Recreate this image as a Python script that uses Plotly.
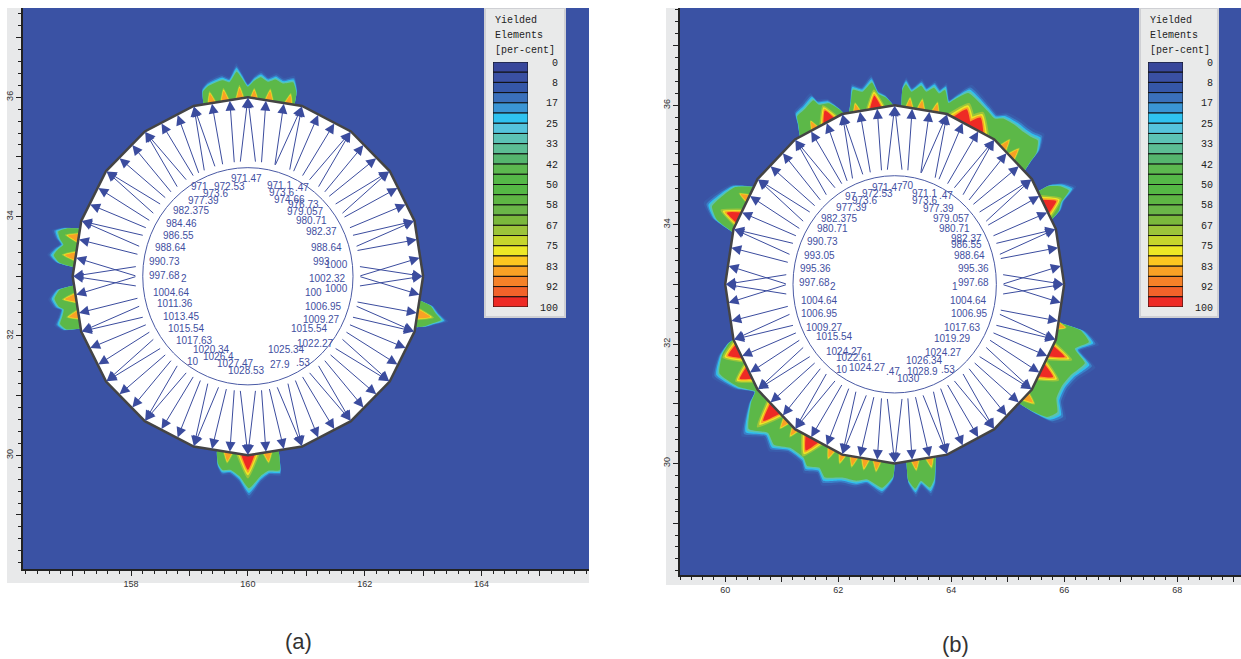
import math
import plotly.graph_objects as go

W, H = 1241, 659

LEGEND_LABELS = ["0","8","17","25","33","42","50","58","67","75","83","92","100"]
LEGEND_COLORS = ["#38479b","#3a50a3","#3557a8","#3a70bb","#3a95d5","#2fc2f0","#55c3dc","#5cc2b5",
                 "#5cbd94","#55b56e","#5cb84f","#55b848","#55b845","#5eb544","#6ab548","#7ab83c",
                 "#9cc43a","#c6d62c","#eee825","#fdc720","#f9a125","#f58128","#f2622a","#ee2a25"]
LEGEND_TITLE = ["Yielded", "Elements", "[per-cent]"]

OUTLINE_DEG = [0,18,36,54,72,90,108,126,144,162,180,198,216,234,252,270,288,306,324,342,360]
ARROW_HEAD_DEG = [0,0,6,-6,12,18,18,24,30,36,36,42,48,54,54,60,66,72,72,78,84,90,90,96,102,108,108,
                  114,120,126,126,132,138,144,144,150,156,162,162,168,174,180,180,186,192,198,198,
                  204,210,216,216,222,228,234,234,240,246,252,252,258,264,270,270,276,282,288,288,
                  294,300,306,306,312,318,324,324,330,336,342,342,348]
ARROW_TAIL_DEG = [-5,5,0,0,13,15,21,25,31,33,39,44,47,51,57,61,66,68,76,76,83,86,94,97,103,107,113,
                  116,119,123,129,133,137,141,147,151,155,159,165,169,180,175,185,180,191,195,201,
                  205,209,213,219,223,227,231,237,241,245,249,255,259,263,266,274,277,281,285,291,
                  295,299,303,309,313,317,321,327,331,335,339,345,347]

# (direction in degrees, reach beyond the lining) for each yielded zone
A_TOP = [(104.7,0),(104,.2),(102,.28),(97.6,.34),(95.5,.29),(93.2,.47),(91.7,.34),(90,.19),(88.1,.3),
         (86.2,.37),(84,.3),(81.8,.36),(79.5,.31),(76.6,.37),(74.9,.2),(74.5,0)]
A_LEFT1 = [(164.5,0),(165.5,.22),(167,.36),(169,.3),(170.5,.22),(172,.3),(174,.37),(176,.25),(177,0)]
A_LEFT2 = [(183,0),(184,.25),(186.5,.36),(189,.3),(190,.22),(192,.27),(194,.34),(196,.25),(197,0)]
A_RIGHT = [(-8,0),(-9,.18),(-11,.3),(-12.5,.42),(-14,.28),(-15.5,.15),(-16.5,0)]
A_BOTTOM = [(259.8,0),(260.8,.2),(262.4,.3),(264.8,.28),(267.5,.38),(270.3,.6),(273.8,.38),(276.3,.3),
            (279.5,.32),(280.2,0)]
A_HOT = [(102,1.6,.13,0),(97.6,1.6,.14,0),(92.6,1.6,.16,0),(88,1.6,.12,0),(83,1.6,.13,0),(76.5,1.6,.12,0),
         (167.5,1.8,.16,0),(173.5,1.8,.16,0),(187,1.8,.16,0),(192.5,1.8,.14,0),(-12.3,2,.2,0),
         (270,3.6,.3,1),(263.5,1.8,.12,0),(276.5,1.8,.12,0)]

B_Z1 = [(124,0),(122.5,.18),(121.5,.33),(118.5,.37),(115,.44),(114,.32),(111,.27),(108.5,.1),(107.5,0)]
B_Z2 = [(105.5,0),(104.3,.15),(102.8,.37),(100,.3),(96.8,.44),(95.2,.22),(93,.15),(90.5,0)]
B_Z3 = [(87.7,0),(87.6,.28),(86.6,.39),(84.7,.26),(82,.39),(80.2,.3),(78.1,.4),(76.2,.32),(74.7,.41),
        (72.6,.2),(71.2,.29),(67.9,.5),(60.7,.37),(57.5,.32),(55.3,.41),(51.1,.45),(48.3,.46),(45.8,.49),
        (43.6,.54),(41.3,.37),(40.5,.16),(39.7,0)]
B_Z4 = [(31.5,0),(31.2,.19),(29.3,.39),(27,.5),(25,.27),(23,.17),(21.5,0)]
B_Z5 = [(147,0),(150,.28),(153.4,.4),(158,.53),(161,.36),(163,0)]
B_Z6 = [(-12.5,0),(-13.2,.41),(-15.7,.62),(-18.7,.4),(-21.4,.67),(-26,.51),(-30,.45),(-33.7,.48),
        (-36.7,.64),(-39.5,.54),(-41,.27),(-42,0)]
B_Z7 = [(198,0),(198.5,.1),(201,.29),(205.7,.48),(212,.27),(216,.06),(217.8,.23),(223.2,.59),(228,.38),
        (231.5,.47),(236,.33),(241,.35),(243,.45),(246.6,.38),(249,.5),(254,.4),(258.4,.39),(261.6,.33),
        (266.3,.45),(269.5,.24),(270,0)]
B_Z8 = [(274,0),(274.2,.31),(276.1,.48),(278,.35),(280.4,.5),(282.1,.37),(283.5,.1),(284,0)]
B_HOT = [(113,3.5,.2,1),(118.5,1.6,.1,0),(96.5,3.2,.22,1),(103,1.6,.1,0),(85,1.6,.12,0),(81,1.6,.12,0),
         (76,1.6,.12,0),(66.5,5.5,.24,1),(61.5,5.5,.22,1),(50,1.7,.14,0),(46,1.7,.14,0),(26,4,.22,1),
         (158,3,.25,1),(151,1.6,.12,0),(-22,3,.3,1),(-29,3.5,.25,1),(-39,2,.15,0),(-13.5,1.6,.1,0),
         (202,4,.22,1),(210,3.5,.2,1),(224.5,3.5,.32,1),(240.5,4,.24,1),(230,1.7,.13,0),(234,1.7,.13,0),
         (248,1.7,.13,0),(252,1.7,.13,0),(256,1.7,.13,0),(260,1.7,.13,0),(264,1.7,.13,0),(277,1.7,.12,0),
         (282,1.7,.12,0)]

A_LABEL_TEXT = ["971.47","971","972.53","973.6","971.1",".47","973.6","974.66","977.39","982.375","976.73",
                "979.057","980.71","982.37","984.46","986.55","988.64","988.64","990.73","993","1000",
                "997.68","2","1002.32","1004.64","100","1000","1011.36","1006.95","1013.45","1009.27",
                "1015.54","1015.54","1017.63","1020.34","1022.27","1025.34","1026.4","1027.47","10",
                "1028.53","27.9",".53"]
A_LABEL_X = [159.97,159.17,159.68,159.45,160.54,160.92,160.58,160.72,159.24,159.04,160.95,160.98,161.09,
             161.26,158.86,158.81,158.68,161.35,158.58,161.26,161.52,158.58,158.91,161.36,158.69,161.12,
             161.52,158.75,161.30,158.86,161.26,158.95,161.06,159.09,159.38,161.15,160.66,159.49,159.78,
             159.06,159.98,160.55,160.95]
A_LABEL_Y = [34.63,34.50,34.50,34.39,34.52,34.49,34.40,34.29,34.27,34.10,34.20,34.08,33.93,33.75,33.89,
             33.68,33.48,33.48,33.25,33.25,33.19,33.02,32.97,32.97,32.73,32.72,32.79,32.55,32.50,32.33,
             32.27,32.13,32.13,31.92,31.77,31.87,31.77,31.66,31.54,31.58,31.42,31.52,31.56]

B_LABEL_TEXT = ["971.47","70","971.1",".47","97","972.53","973.6","977.39","973.6","977.39","982.375",
                "979.057","980.71","980.71","982.37","986.55","990.73","993.05","988.64","995.36","995.36",
                "997.68","997.68","2","1","1004.64","1004.64","1006.95","1006.95","1009.27","1017.63",
                "1015.54","1019.29","1024.27","1022.61","1024.27","1024.27","10",".47","1030","1028.9",
                ".53","1026.34"]
B_LABEL_X = [62.88,63.24,63.53,63.91,62.23,62.70,62.47,62.23,63.53,63.77,62.03,64.0,61.90,64.06,64.27,64.27,
             61.72,61.67,64.33,61.60,64.39,61.58,64.40,61.91,64.07,61.67,64.30,61.67,64.33,61.76,64.20,
             61.94,64.02,62.11,62.29,63.87,62.51,62.07,62.97,63.24,63.50,63.94,63.53]
B_LABEL_Y = [34.62,34.655,34.53,34.49,34.48,34.52,34.40,34.28,34.40,34.27,34.10,34.10,33.93,33.93,33.77,
             33.66,33.72,33.48,33.48,33.26,33.26,33.03,33.03,32.96,32.96,32.73,32.73,32.51,32.51,32.27,
             32.27,32.13,32.10,31.87,31.77,31.86,31.60,31.57,31.54,31.43,31.54,31.57,31.73]

BLUE = "#3a52a4"
INK = "#3b4c9e"
ZONE_LAYERS = [(1.22,"#3a5cab"),(1.12,"#3a80c8"),(1.05,"#30c0ee"),(.99,"#5cc2b0"),(.92,"#5cb848")]
HOT_LAYERS = [(1.3,"#9cc43a",0),(1.12,"#eee825",0),(.98,"#f9a125",0),(.82,"#ee2a25",1)]


def pol(cx, cy, deg, r):
    return cx + r * math.cos(math.radians(deg)), cy + r * math.sin(math.radians(deg))


def lining_r(deg):
    return 3 * math.cos(math.radians(9)) / math.cos(math.radians((deg % 18) - 9))


def filled(xs, ys, color, xa, ya):
    return go.Scatter(x=xs, y=ys, mode="lines", fill="toself", fillcolor=color,
                      line=dict(width=0, shape="spline", smoothing=.5),
                      hoverinfo="skip", showlegend=False, xaxis=xa, yaxis=ya)


fig = go.Figure()
shapes, notes = [], []


def panel(cx, cy, zones, hot, texts, tx, ty, xa, ya, lax, lay):
    for f, col in ZONE_LAYERS:
        xs, ys = [], []
        for z in zones:
            pts = [pol(cx, cy, a, 3 + d * f) for a, d in z]
            pts = [pol(cx, cy, z[0][0], 2.9)] + pts + [pol(cx, cy, z[-1][0], 2.9)]
            xs += [p[0] for p in pts] + [None]
            ys += [p[1] for p in pts] + [None]
        fig.add_trace(filled(xs, ys, col, xa, ya))
    for f, col, need in HOT_LAYERS:
        xs, ys = [], []
        for a, hw, h, peak in hot:
            if need and not peak:
                continue
            pts = [pol(cx, cy, a - hw * f, 2.9), pol(cx, cy, a, 3 + h * f), pol(cx, cy, a + hw * f, 2.9)]
            xs += [p[0] for p in pts] + [None]
            ys += [p[1] for p in pts] + [None]
        fig.add_trace(filled(xs, ys, col, xa, ya))
    pts = [pol(cx, cy, a, 3) for a in OUTLINE_DEG]
    fig.add_trace(go.Scatter(x=[p[0] for p in pts], y=[p[1] for p in pts], mode="lines", fill="toself",
                             fillcolor="white", line=dict(color="#444444", width=2.5), hoverinfo="skip",
                             showlegend=False, xaxis=xa, yaxis=ya))
    for h, t in zip(ARROW_HEAD_DEG, ARROW_TAIL_DEG):
        hx, hy = pol(cx, cy, h, lining_r(h) - .01)
        ax_, ay_ = pol(cx, cy, t, 1.9)
        notes.append(dict(x=hx, y=hy, ax=ax_, ay=ay_, xref=xa, yref=ya, axref=xa, ayref=ya, text="",
                          showarrow=True, arrowhead=2, arrowsize=2, arrowwidth=1, arrowcolor=INK,
                          standoff=0, startstandoff=0))
    for s, x, y in zip(texts, tx, ty):
        notes.append(dict(x=x, y=y, xref=xa, yref=ya, text=s, showarrow=False,
                          font=dict(family="Liberation Sans", size=10, color="#3f4f9f")))
    shapes.append(dict(type="circle", xref=xa, yref=ya, x0=cx - 1.8, x1=cx + 1.8, y0=cy - 1.82, y1=cy + 1.82,
                       line=dict(color="#4a5aa5", width=1), layer="above"))
    fig.add_trace(go.Bar(x=[0] * len(LEGEND_COLORS), y=[1] * len(LEGEND_COLORS),
                         base=list(range(len(LEGEND_COLORS))), width=1,
                         marker=dict(color=LEGEND_COLORS, line=dict(color="#111111", width=1)),
                         hoverinfo="skip", showlegend=False, xaxis=lax, yaxis=lay))


panel(160, 33, [A_TOP, A_LEFT1, A_LEFT2, A_RIGHT, A_BOTTOM], A_HOT, A_LABEL_TEXT, A_LABEL_X, A_LABEL_Y,
      "x", "y", "x3", "y3")
panel(63, 33, [B_Z1, B_Z2, B_Z3, B_Z4, B_Z5, B_Z6, B_Z7, B_Z8], B_HOT, B_LABEL_TEXT, B_LABEL_X, B_LABEL_Y,
      "x2", "y2", "x4", "y4")

AXC = "#222222"
TF = dict(family="Liberation Sans", size=9, color="#333333")


def x_axis(rng, ticks, dom, anchor):
    return dict(domain=dom, range=rng, anchor=anchor, tickvals=ticks,
                ticktext=[str(t) if t % 2 == 0 else "" for t in ticks], ticks="outside", ticklen=5, tickfont=TF,
                tickcolor=AXC, showline=True, linecolor=AXC, linewidth=1.5, showgrid=False, zeroline=False,
                minor=dict(dtick=.2, ticks="outside", ticklen=3, tickcolor=AXC))


def y_axis(rng, ticks, dom, anchor):
    d = x_axis(rng, ticks, dom, anchor)
    d["tickangle"] = -90
    return d


def dom_x(a, b):
    return [a / W, b / W]


def dom_y(top, bottom):
    return [(H - bottom) / H, (H - top) / H]


LX = [493, 1148]
LR = [528, 1183]
LABEL_END = [558, 1213]
AY_RANGE = [28.095, 37.495]
BY_RANGE = [28.13, 37.63]
layout = dict(width=W, height=H, margin=dict(l=0, r=0, t=0, b=0, autoexpand=False), paper_bgcolor="white",
              plot_bgcolor=BLUE, barmode="overlay", showlegend=False,
              xaxis=x_axis([156.15, 165.84], [157,158,159,160,161,162,163,164,165], dom_x(23, 589), "y"),
              yaxis=y_axis(AY_RANGE, [29,30,31,32,33,34,35,36,37], dom_y(8, 569), "x"),
              xaxis2=x_axis([59.2, 69.13], [60,61,62,63,64,65,66,67,68,69], dom_x(680, 1241), "y2"),
              yaxis2=y_axis(BY_RANGE, [29,30,31,32,33,34,35,36,37], dom_y(8, 575), "x2"))
for i, (xn, yn) in enumerate([("xaxis3", "yaxis3"), ("xaxis4", "yaxis4")]):
    layout[xn] = dict(domain=dom_x(LX[i], LR[i]), range=[-.5, .5], visible=False, anchor=yn.replace("axis", ""))
    layout[yn] = dict(domain=dom_y(62, 307), range=[24, 0], anchor="free", position=LABEL_END[i] / W, side="left",
                      tickvals=list(range(0, 25, 2)), ticktext=LEGEND_LABELS, ticks="", showline=False,
                      showgrid=False, zeroline=False,
                      tickfont=dict(family="Liberation Mono", size=10, color="#222222"))
    for j, s in enumerate(LEGEND_TITLE):
        notes.append(dict(x=LX[i] / W, y=(H - 21 - j * 14.6) / H, xref="paper", yref="paper", text=s,
                          showarrow=False, xanchor="left", yanchor="middle",
                          font=dict(family="Liberation Mono", size=10, color="#222222")))

# grey frames behind the axes, blue plot fields, legend boxes
for x0, x1, y1 in [(7, 589, 583), (666, 1241, 585)]:
    shapes.append(dict(type="rect", xref="paper", yref="paper", x0=x0 / W, x1=x1 / W, y0=(H - y1) / H, y1=(H - 8) / H,
                       fillcolor="#e8e9ea", line=dict(width=0), layer="below"))
for x0, x1, y1 in [(23, 589, 569), (680, 1241, 575)]:
    shapes.append(dict(type="rect", xref="paper", yref="paper", x0=x0 / W, x1=x1 / W, y0=(H - y1) / H, y1=(H - 8) / H,
                       fillcolor=BLUE, line=dict(width=0), layer="below"))
# legend boxes, placed from pixel positions through each panel's own scale
a_px = lambda px: 156.15 + (px - 23) * (165.84 - 156.15) / 566
a_py = lambda py: AY_RANGE[1] - (py - 8) * (AY_RANGE[1] - AY_RANGE[0]) / 561
b_px = lambda px: 59.2 + (px - 680) * (69.13 - 59.2) / 561
b_py = lambda py: BY_RANGE[1] - (py - 8) * (BY_RANGE[1] - BY_RANGE[0]) / 567
shapes.append(dict(type="rect", xref="x", yref="y", x0=a_px(485), x1=a_px(565), y0=a_py(317), y1=a_py(8),
                   fillcolor="#e9eaea", line=dict(color="#cfd0d4", width=2), layer="between"))
shapes.append(dict(type="rect", xref="x2", yref="y2", x0=b_px(1140), x1=b_px(1218), y0=b_py(317), y1=b_py(8),
                   fillcolor="#e9eaea", line=dict(color="#cfd0d4", width=2), layer="between"))

for s, px, py in [("(a)", 298, 641), ("(b)", 955, 644)]:
    notes.append(dict(x=px / W, y=(H - py) / H, xref="paper", yref="paper", text=s, showarrow=False,
                      xanchor="center", yanchor="middle",
                      font=dict(family="Liberation Sans", size=22, color="#333333")))

fig.update_layout(**layout, shapes=shapes, annotations=notes)
fig.write_html("out.html", config=dict(displayModeBar=False), post_script="document.body.style.margin='0';")
